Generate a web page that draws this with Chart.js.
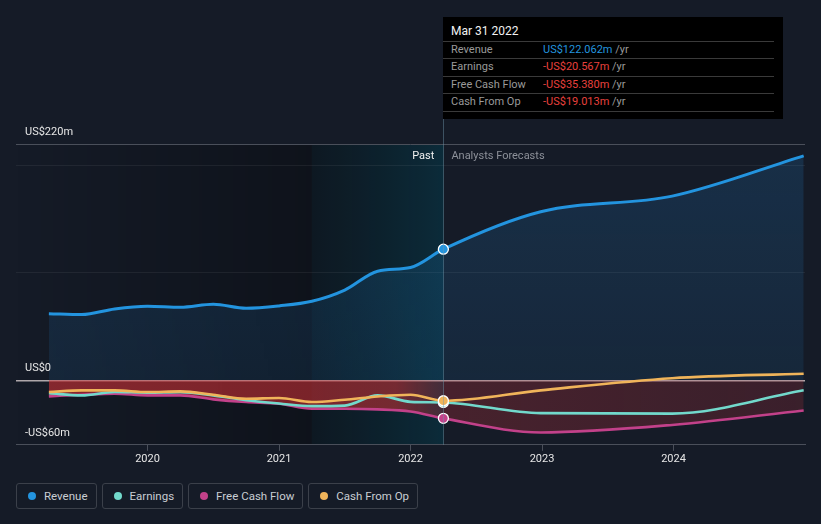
<!DOCTYPE html>
<html>
<head>
<meta charset="utf-8">
<script src="https://cdn.jsdelivr.net/npm/chart.js@4/dist/chart.umd.min.js"></script>
<style>
  html, body { margin:0; padding:0; background:#151b27; }
  body { width:821px; height:524px; position:relative; overflow:hidden; font-family: Roboto, "Noto Sans", sans-serif; }
  #wrap { position:absolute; left:0; top:0; width:821px; height:470px; }
  #tip { position:absolute; left:443px; top:17px; width:340px; height:102px; background:#000; box-sizing:border-box; }
  #tip .title { position:absolute; left:8px; top:7px; font-size:12px; color:#f2f2f2; white-space:nowrap; }
  #tip .sep { position:absolute; left:0; width:331px; height:1px; background:#3a3a3a; }
  #tip .row { position:absolute; left:8px; width:320px; font-size:11px; color:#9a9a9a; line-height:14px; white-space:nowrap; }
  #tip .val { position:absolute; left:92px; top:0; white-space:nowrap; }
  .blue { color:#2394df; } .red { color:#e8413d; } .unit { color:#9a9a9a; }
  #legend { position:absolute; left:16px; top:483px; display:flex; gap:5px; }
  .item { height:26px; box-sizing:border-box; border:1px solid #3b404a; border-radius:3px; padding:0 8px 0 27px; position:relative; font-size:11.5px; color:#c9cdd3; line-height:24px; white-space:nowrap; }
  .item i { position:absolute; left:11px; top:8px; width:8px; height:8px; border-radius:50%; }
</style>
</head>
<body>
<div id="wrap"><canvas id="c" width="821" height="470"></canvas></div>
<div id="tip">
  <div class="title">Mar 31 2022</div>
  <div class="sep" style="top:24px"></div>
  <div class="row" style="top:26px">Revenue<span class="val"><span class="blue">US$122.062m</span> <span class="unit">/yr</span></span></div>
  <div class="sep" style="top:41px"></div>
  <div class="row" style="top:43px">Earnings<span class="val"><span class="red">-US$20.567m</span> <span class="unit">/yr</span></span></div>
  <div class="sep" style="top:59px"></div>
  <div class="row" style="top:61px">Free Cash Flow<span class="val"><span class="red">-US$35.380m</span> <span class="unit">/yr</span></span></div>
  <div class="sep" style="top:76px"></div>
  <div class="row" style="top:78px">Cash From Op<span class="val"><span class="red">-US$19.013m</span> <span class="unit">/yr</span></span></div>
  <div class="sep" style="top:94px"></div>
</div>
<div id="legend"></div>
<script>
// ---- data ----
const xYears   = [2019.25, 2019.5, 2019.75, 2020, 2020.25, 2020.5, 2020.75, 2021, 2021.25, 2021.5, 2021.75, 2022, 2022.25, 2022.99, 2023.99, 2024.99];
const revenue  = [62.1, 61.2, 66.5, 69, 68, 70.8, 67.1, 69.3, 73.6, 84, 101.6, 105, 122.062, 157, 171.5, 209];
const earnings = [-12, -14, -10.8, -11.5, -11, -14, -18.5, -21.5, -24, -23.5, -14, -20, -20.567, -30.5, -31, -9.3];
const fcf      = [-14.9, -13.4, -12.4, -14, -14, -17.7, -20.2, -21.8, -26.4, -26.4, -27, -29, -35.38, -48.5, -41.5, -28];
const cfo      = [-10.9, -9.3, -9.3, -10.9, -10.3, -13.4, -17.1, -16.5, -20.2, -18, -15, -13.4, -19.013, -9.3, 2, 6.2];
const seriesNames = ["Revenue", "Earnings", "Free Cash Flow", "Cash From Op"];
const seriesColors = ["#2394df", "#72d9cc", "#c2418a", "#f0b45a"];
const xTicks = [2020, 2021, 2022, 2023, 2024];
const yLabelValues = [220, 0, -60];
const yLabelText = ["US$220m", "US$0", "-US$60m"];
const yGridValues = [-60, 0, 100, 200, 220];
const nowX = 2022.25, pastStartX = 2021.25;

const pts = arr => arr.map((v, i) => ({ x: xYears[i], y: v }));
const nowIdx = xYears.indexOf(nowX);
const ptRadius = ctx => ctx.dataIndex === nowIdx ? 5 : 0;

function revFill(c) {
  const { chart } = c; const a = chart.chartArea; if (!a) return 'rgba(33,150,243,0.12)';
  const y = chart.scales.y;
  const g = chart.ctx.createLinearGradient(0, y.getPixelForValue(220), 0, y.getPixelForValue(0));
  g.addColorStop(0, 'rgba(40,150,235,0.17)');
  g.addColorStop(1, 'rgba(40,150,235,0.10)');
  return g;
}
function redFill(c) {
  const { chart } = c; const a = chart.chartArea; if (!a) return 'rgba(205,50,55,0.4)';
  const x = chart.scales.x;
  const g = chart.ctx.createLinearGradient(a.left, 0, a.right, 0);
  const f = (x.getPixelForValue(nowX) - a.left) / (a.right - a.left);
  g.addColorStop(0, 'rgba(205,48,52,0.62)');
  g.addColorStop(Math.max(0, f - 0.06), 'rgba(205,48,52,0.55)');
  g.addColorStop(f, 'rgba(190,50,60,0.30)');
  g.addColorStop(1, 'rgba(190,50,60,0.22)');
  return g;
}

const overlay = {
  id: 'overlay',
  beforeDraw(chart) {
    const { ctx, chartArea: a, scales: { x } } = chart;
    const x1 = x.getPixelForValue(pastStartX), x2 = x.getPixelForValue(nowX);
    ctx.save();
    let g = ctx.createLinearGradient(a.left, 0, x1, 0);
    g.addColorStop(0, 'rgba(0,0,0,0)');
    g.addColorStop(1, 'rgba(0,0,0,0.3)');
    ctx.fillStyle = g; ctx.fillRect(a.left, a.top, x1 - a.left, a.bottom - a.top);
    ctx.fillStyle = 'rgba(0,0,0,0.3)'; ctx.fillRect(x1, a.top, x2 - x1, a.bottom - a.top);
    g = ctx.createLinearGradient(x1, 0, x2, 0);
    g.addColorStop(0, 'rgba(0,120,150,0.06)');
    g.addColorStop(1, 'rgba(0,150,190,0.19)');
    ctx.fillStyle = g; ctx.fillRect(x1, a.top, x2 - x1, a.bottom - a.top);
    ctx.restore();
  },
  afterDraw(chart) {
    const { ctx, chartArea: a, scales: { x, y } } = chart;
    const x2 = x.getPixelForValue(nowX);
    ctx.save();
    ctx.strokeStyle = 'rgba(110,150,170,0.45)'; ctx.lineWidth = 1;
    ctx.beginPath(); ctx.moveTo(Math.round(x2) + 0.5, 119); ctx.lineTo(Math.round(x2) + 0.5, a.bottom); ctx.stroke();
    ctx.font = '11px Roboto, "Noto Sans", sans-serif';
    ctx.textBaseline = 'middle';
    ctx.fillStyle = '#e6e6e6'; ctx.textAlign = 'left';
    yLabelValues.forEach((v, i) => ctx.fillText(yLabelText[i], 25, y.getPixelForValue(v) - 12));
    ctx.textAlign = 'right'; ctx.fillStyle = '#f0f0f0';
    ctx.fillText('Past', x2 - 9, a.top + 12);
    ctx.textAlign = 'left'; ctx.fillStyle = '#8c9099';
    ctx.fillText('Analysts Forecasts', x2 + 8, a.top + 12);
    ctx.restore();
  }
};

const common = { borderWidth: 2.6, cubicInterpolationMode: 'monotone', pointRadius: ptRadius, pointHoverRadius: 0,
  pointBorderColor: '#ffffff', pointBorderWidth: 1.3 };

new Chart(document.getElementById('c'), {
  type: 'line',
  data: {
    datasets: [
      { ...common, label: seriesNames[3], data: pts(cfo), borderColor: seriesColors[3], pointBackgroundColor: seriesColors[3], fill: false, order: 1 },
      { ...common, label: seriesNames[2], data: pts(fcf), borderColor: seriesColors[2], pointBackgroundColor: seriesColors[2], fill: 'origin', backgroundColor: redFill, order: 3 },
      { ...common, label: seriesNames[1], data: pts(earnings), borderColor: seriesColors[1], pointBackgroundColor: seriesColors[1], fill: false, order: 2 },
      { ...common, label: seriesNames[0], data: pts(revenue), borderColor: seriesColors[0], pointBackgroundColor: seriesColors[0], borderWidth: 3, fill: 'origin', backgroundColor: revFill, order: 4 }
    ]
  },
  options: {
    responsive: false, animation: false, devicePixelRatio: 1,
    layout: { padding: { left: 16, right: 16, top: 144, bottom: 2 } },
    plugins: { legend: { display: false }, tooltip: { enabled: false }, filler: { drawTime: 'beforeDatasetsDraw' } },
    events: [],
    scales: {
      x: {
        type: 'linear', min: 2019, max: 2025,
        afterBuildTicks: s => { s.ticks = xTicks.map(v => ({ value: v })); },
        ticks: { color: '#e6e6e6', font: { size: 11, family: 'Roboto' }, padding: 2, maxRotation: 0, callback: v => String(v) },
        grid: { drawOnChartArea: false, drawTicks: true, tickLength: 6, color: '#4a4f5a' },
        border: { display: true, color: '#4a4f5a', width: 1 }
      },
      y: {
        min: -60, max: 220,
        afterBuildTicks: s => { s.ticks = yGridValues.map(v => ({ value: v })); },
        ticks: { display: false },
        grid: { drawTicks: false, lineWidth: c => c.tick && c.tick.value === 0 ? 1.6 : 1,
          color: c => { const v = c.tick && c.tick.value; if (v === 0) return 'rgba(225,215,215,0.75)'; if (v === 220) return '#4a4f5a'; if (v === -60) return 'rgba(0,0,0,0)'; return 'rgba(255,255,255,0.06)'; } },
        border: { display: false }
      }
    }
  },
  plugins: [overlay]
});

const lg = document.getElementById('legend');
seriesNames.forEach((n, i) => {
  const d = document.createElement('div'); d.className = 'item';
  d.innerHTML = '<i style="background:' + seriesColors[i] + '"></i>' + n;
  lg.appendChild(d);
});
</script>
</body>
</html>
